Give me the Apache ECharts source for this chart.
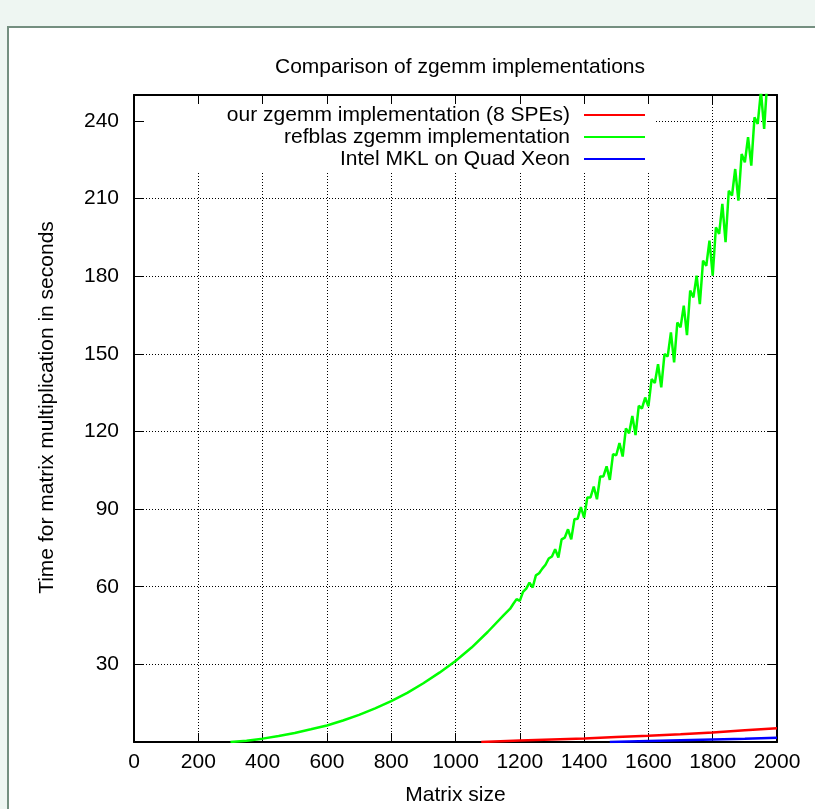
<!DOCTYPE html>
<html>
<head>
<meta charset="utf-8">
<title>Comparison of zgemm implementations</title>
<script src="https://cdn.jsdelivr.net/npm/echarts@6/dist/echarts.min.js"></script>
<style>
    html, body { margin: 0; padding: 0; background: #eef6f2; overflow: hidden; }
    #frame { position: absolute; left: 7px; top: 26px; width: 900px; height: 900px; border: 2px solid #748f80; background: #fff; }
    #chart { position: absolute; left: 0; top: 0; width: 815px; height: 809px; }
</style>
</head>
<body>
<div id="frame"></div>
<div id="chart"></div>
<script>
// 数据
var refblasSizes = [300, 350, 400, 450, 500, 550, 600, 650, 700, 750, 800, 850, 900, 950, 1000, 1050, 1100, 1150, 1170, 1180, 1190,
    1200, 1210, 1220, 1230, 1240, 1250, 1260, 1270, 1280, 1290, 1300, 1310, 1320, 1330, 1340, 1350, 1360, 1370, 1380, 1390,
    1400, 1410, 1420, 1430, 1440, 1450, 1460, 1470, 1480, 1490, 1500, 1510, 1520, 1530, 1540, 1550, 1560, 1570, 1580, 1590,
    1600, 1610, 1620, 1630, 1640, 1650, 1660, 1670, 1680, 1690, 1700, 1710, 1720, 1730, 1740, 1750, 1760, 1770, 1780, 1790,
    1800, 1810, 1820, 1830, 1840, 1850, 1860, 1870, 1880, 1890, 1900, 1910, 1920, 1930, 1940, 1950, 1960, 1970, 1980, 1990, 2000];
var refblasTimes = [0.0, 0.5, 1.3, 2.3, 3.5, 4.9, 6.4, 8.3, 10.5, 13.0, 15.8, 19.0, 22.7, 26.8, 31.3, 36.5, 42.5, 49.0, 51.5, 53.4, 55.2,
    54.5, 58.0, 59.3, 61.6, 59.7, 64.4, 65.2, 67.0, 68.5, 70.9, 71.7, 74.5, 71.3, 78.3, 79.0, 82.2, 78.3, 86.1, 86.3, 90.8,
    86.7, 94.5, 94.5, 98.7, 93.8, 102.6, 102.6, 106.5, 101.3, 111.2, 110.8, 115.5, 110.3, 121.2, 119.3, 126.0, 118.6, 129.9, 128.9, 133.1,
    129.7, 140.2, 138.7, 146.0, 137.0, 149.9, 149.0, 158.3, 146.7, 162.1, 160.2, 168.6, 157.2, 174.4, 171.8, 180.2, 169.2, 186.0, 184.0, 193.7,
    180.2, 198.9, 196.3, 207.9, 193.1, 213.0, 211.1, 221.4, 209.2, 227.2, 224.0, 233.7, 222.7, 241.4, 238.8, 251.5, 236.9, 256.0, 254.0, 262.0, 252.0];

var speSizes = [1080, 1200, 1300, 1400, 1500, 1600, 1700, 1800, 1900, 2000];
var speTimes = [0.0, 0.6, 1.0, 1.4, 1.9, 2.4, 3.0, 3.7, 4.5, 5.3];

var mklSizes = [1480, 1600, 1700, 1800, 1900, 2000];
var mklTimes = [0.0, 0.35, 0.65, 0.95, 1.25, 1.6];

var seriesNames = ['our zgemm implementation (8 SPEs)', 'refblas zgemm implementation', 'Intel MKL on Quad Xeon'];
var seriesColors = ['#ff0000', '#00ff00', '#0000ff'];

var xTicks = { min: 0, max: 2000, interval: 200 };
var yTicks = { min: 0, max: 250, interval: 30 };

function pairs(xs, ys) {
    var out = [];
    for (var i = 0; i < xs.length; i++) {
        out.push([xs[i], ys[i]]);
    }
    return out;
}

var FONT = 'Liberation Sans';

function makeLegend(idx, top) {
    return {
        data: [seriesNames[idx]],
        right: 170,
        top: top,
        align: 'right',
        orient: 'horizontal',
        icon: 'rect',
        itemWidth: 61,
        itemHeight: 2,
        padding: 0,
        selectedMode: false,
        textStyle: {
            fontFamily: FONT,
            fontSize: 21,
            lineHeight: 22,
            color: '#000',
            padding: [0, 9, 0, 0]
        }
    };
}

function axisCommon(extra) {
    var base = {
        type: 'value',
        axisLine: { show: true, onZero: false, lineStyle: { color: '#000', width: 2 } },
        axisTick: { show: true, inside: true, length: 9, lineStyle: { color: '#000', width: 1 } },
        splitLine: { show: false }
    };
    for (var k in extra) base[k] = extra[k];
    return base;
}

function plainNumber(v) {
    return String(v);
}

var myChart = echarts.init(document.getElementById('chart'), null, { renderer: 'canvas' });
var option = {
    animation: false,
    backgroundColor: 'transparent',
    title: {
        text: 'Comparison of zgemm implementations',
        left: 455,
        top: 52,
        textAlign: 'center',
        textStyle: { fontFamily: FONT, fontSize: 21, fontWeight: 'normal', color: '#000' }
    },
    legend: [makeLegend(0, 104), makeLegend(1, 126), makeLegend(2, 148)],
    grid: { left: 134, right: 38, top: 95, bottom: 67, containLabel: false, outerBoundsMode: 'none' },
    xAxis: [
        axisCommon({
            position: 'bottom',
            min: xTicks.min, max: xTicks.max, interval: xTicks.interval,
            name: 'Matrix size',
            nameLocation: 'middle',
            nameGap: 43,
            nameTextStyle: { fontFamily: FONT, fontSize: 21, color: '#000' },
            axisLabel: { margin: 10, fontFamily: FONT, fontSize: 21, color: '#000', formatter: plainNumber },
            splitLine: { show: true, lineStyle: { color: '#000', width: 1, type: [1, 2] } }
        }),
        axisCommon({
            position: 'top',
            min: xTicks.min, max: xTicks.max, interval: xTicks.interval,
            axisLabel: { show: false }
        })
    ],
    yAxis: [
        axisCommon({
            position: 'left',
            min: yTicks.min, max: yTicks.max, interval: yTicks.interval,
            name: 'Time for matrix multiplication in seconds',
            nameLocation: 'middle',
            nameGap: 76,
            nameTextStyle: { fontFamily: FONT, fontSize: 21, color: '#000', padding: [0, 0, 0, 22] },
            axisLabel: { margin: 15, fontFamily: FONT, fontSize: 21, color: '#000', showMinLabel: false, showMaxLabel: false, formatter: plainNumber },
            splitLine: { show: true, lineStyle: { color: '#000', width: 1, type: [1, 2] } }
        }),
        axisCommon({
            position: 'right',
            min: yTicks.min, max: yTicks.max, interval: yTicks.interval,
            axisLabel: { show: false }
        })
    ],
    // 图例白底，遮住网格线
    graphic: [{
        type: 'rect',
        left: 144,
        top: 104,
        shape: { width: 512, height: 68 },
        style: { fill: '#fff' },
        silent: true,
        z: 3
    }],
    series: [
        {
            name: seriesNames[0],
            type: 'line',
            showSymbol: false,
            color: seriesColors[0],
            lineStyle: { width: 2.5 },
            data: pairs(speSizes, speTimes)
        },
        {
            name: seriesNames[1],
            type: 'line',
            showSymbol: false,
            color: seriesColors[1],
            lineStyle: { width: 2.5 },
            clip: true,
            data: pairs(refblasSizes, refblasTimes)
        },
        {
            name: seriesNames[2],
            type: 'line',
            showSymbol: false,
            color: seriesColors[2],
            lineStyle: { width: 2.5 },
            data: pairs(mklSizes, mklTimes)
        }
    ]
};
myChart.setOption(option);
</script>
</body>
</html>
